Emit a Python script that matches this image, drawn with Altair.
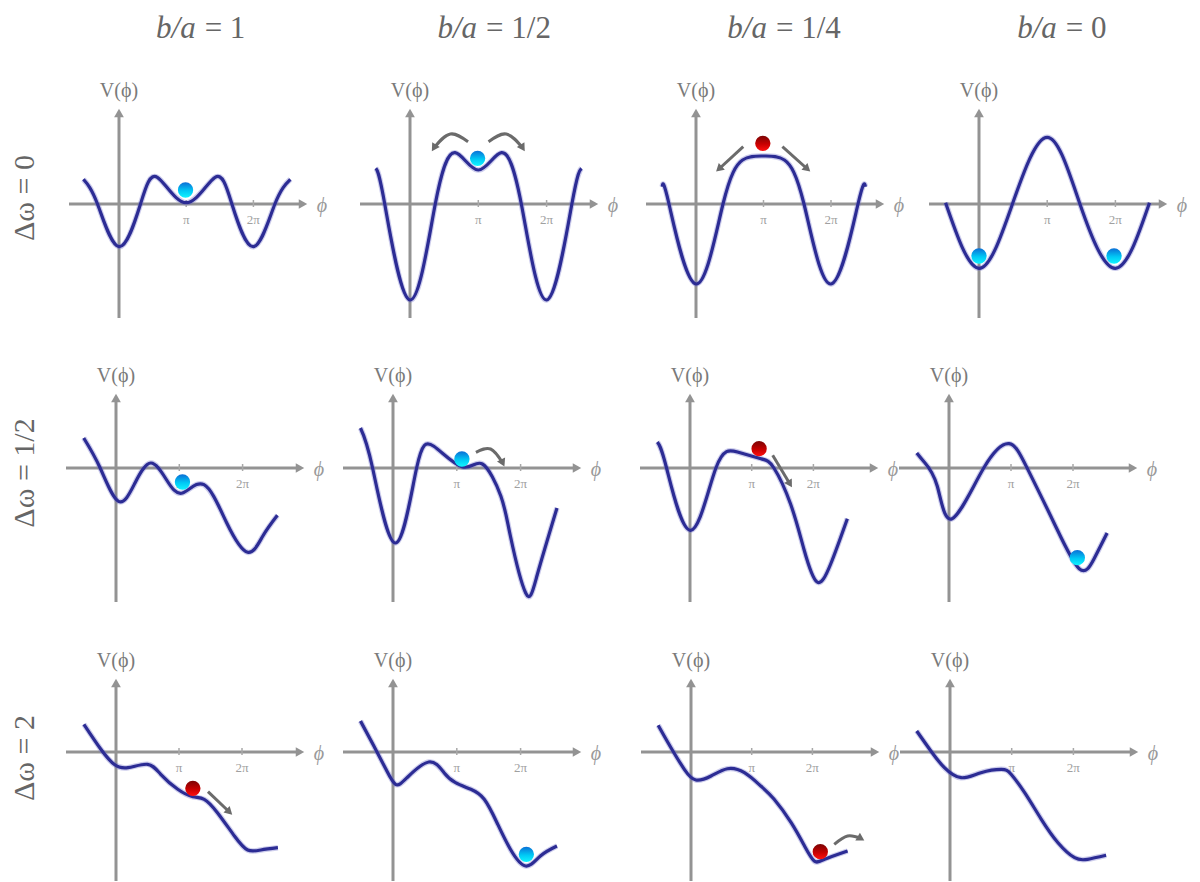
import math
import altair as alt
import pandas as pd

# ---------------- text ----------------
col_titles = ["1", "1/2", "1/4", "0"]
row_titles = ["Δω = 0", "Δω = 1/2", "Δω = 2"]
title_phi = [1.2, 1.04, 1.11, 1.2]

# ---------------- curves: phi in units of pi, V in arbitrary units ----------------
phi_r1c1 = [-0.53, -0.32, 0.0, 0.32, 0.57, 1.0, 1.43, 1.68, 2.0, 2.32, 2.55]
V_r1c1 = [24.7, 0.0, -42.7, 0.0, 26.7, 1.3, 26.7, 0.0, -42.7, 0.0, 24.7]

phi_r1c2 = [-0.50, -0.37, 0.0, 0.37, 0.66, 1.0, 1.34, 1.63, 2.0, 2.37, 2.51]
V_r1c2 = [35.7, 0.0, -96.0, 0.0, 51.3, 34.0, 51.3, 0.0, -96.0, 0.0, 35.7]

phi_r1c3 = [-0.50, -0.40, 0.0, 0.40, 0.69, 1.0, 1.31, 1.60, 2.0, 2.40, 2.51]
V_r1c3 = [17.3, 0.0, -80.0, 0.0, 44.0, 48.0, 44.0, 0.0, -80.0, 0.0, 17.3]

phi_r1c4 = [-0.49, 0.0, 0.49, 1.0, 1.48, 2.0, 2.50]
V_r1c4 = [1.3, -64.3, 0.0, 66.7, 0.0, -64.3, 1.3]

phi_r2c1 = [-0.51, -0.25, 0.04, 0.30, 0.55, 0.80, 1.05, 1.39, 1.75, 2.08, 2.32, 2.55]
V_r2c1 = [30.0, 0.0, -33.3, -15.0, 5.0, -12.0, -25.0, -16.7, -55.0, -84.3, -68.0, -47.3]

phi_r2c2 = [-0.51, -0.32, 0.04, 0.37, 0.64, 1.09, 1.40, 1.69, 1.84, 2.08, 2.26, 2.57]
V_r2c2 = [40.0, 0.0, -75.0, 0.0, 21.7, 1.0, 4.0, -28.0, -68.0, -125.0, -107.0, -40.0]

phi_r2c3 = [-0.53, -0.38, 0.01, 0.42, 0.77, 1.15, 1.36, 1.63, 1.85, 2.06, 2.28, 2.55]
V_r2c3 = [26.0, 0.0, -62.3, 0.0, 16.0, 9.3, 0.0, -36.0, -82.0, -114.0, -96.0, -50.7]

phi_r2c4 = [-0.52, -0.40, -0.19, 0.05, 0.56, 0.97, 1.26, 1.70, 2.10, 2.34, 2.55]
V_r2c4 = [15.0, 6.0, -18.0, -50.7, 0.0, 24.3, 0.0, -55.7, -100.7, -90.7, -65.0]

phi_r3c1 = [-0.51, -0.24, -0.03, 0.19, 0.50, 0.71, 0.98, 1.22, 1.40, 1.61, 1.88, 2.09, 2.30, 2.57]
V_r3c1 = [27.7, 2.7, -12.3, -15.7, -12.3, -22.3, -37.3, -44.7, -47.3, -60.7, -84.0, -98.0, -98.0, -95.7]

phi_r3c2 = [-0.51, -0.30, -0.11, 0.04, 0.22, 0.56, 0.80, 0.98, 1.22, 1.43, 1.63, 1.84, 2.08, 2.31, 2.57]
V_r3c2 = [31.0, 6.0, -17.3, -32.3, -25.7, -10.0, -20.7, -30.7, -37.3, -47.3, -70.7, -97.3, -114.0, -104.0, -94.0]

phi_r3c3 = [-0.54, -0.33, -0.11, 0.08, 0.33, 0.60, 0.88, 1.15, 1.37, 1.65, 1.87, 2.03, 2.20, 2.58]
V_r3c3 = [26.7, 4.3, -17.3, -28.0, -24.0, -16.7, -20.7, -34.0, -47.3, -70.7, -94.0, -109.0, -107.3, -99.0]

phi_r3c4 = [-0.54, -0.31, -0.09, 0.18, 0.50, 0.83, 0.99, 1.21, 1.48, 1.75, 2.02, 2.23, 2.53]
V_r3c4 = [21.0, 1.0, -15.7, -25.7, -20.7, -17.3, -22.3, -40.7, -67.3, -90.7, -105.7, -107.3, -103.3]

curves = {
    (0, 0): (phi_r1c1, V_r1c1), (0, 1): (phi_r1c2, V_r1c2),
    (0, 2): (phi_r1c3, V_r1c3), (0, 3): (phi_r1c4, V_r1c4),
    (1, 0): (phi_r2c1, V_r2c1), (1, 1): (phi_r2c2, V_r2c2),
    (1, 2): (phi_r2c3, V_r2c3), (1, 3): (phi_r2c4, V_r2c4),
    (2, 0): (phi_r3c1, V_r3c1), (2, 1): (phi_r3c2, V_r3c2),
    (2, 2): (phi_r3c3, V_r3c3), (2, 3): (phi_r3c4, V_r3c4),
}

# balls: (phi, V, kind)
balls = {
    (0, 0): [(0.99, 14.0, "blue")],
    (0, 1): [(0.99, 45.7, "blue")],
    (0, 2): [(0.99, 60.7, "red")],
    (0, 3): [(0.0, -52.0, "blue"), (1.98, -52.0, "blue")],
    (1, 0): [(1.05, -14.0, "blue")],
    (1, 1): [(1.08, 9.0, "blue")],
    (1, 2): [(1.12, 19.3, "red")],
    (1, 3): [(2.07, -89.7, "blue")],
    (2, 0): [(1.22, -36.3, "red")],
    (2, 1): [(2.09, -102.3, "blue")],
    (2, 2): [(2.13, -99.7, "red")],
    (2, 3): [],
}

# motion arrows: list of (phi, V) points
arrows = {
    (0, 1): [[(0.85, 62.3), (0.59, 70.0), (0.35, 56.0)],
             [(1.15, 62.3), (1.41, 70.0), (1.65, 56.0)]],
    (0, 2): [[(0.70, 57.3), (0.34, 35.0)], [(1.28, 57.3), (1.65, 35.0)]],
    (1, 1): [[(1.30, 15.7), (1.53, 19.0), (1.72, 5.0)]],
    (1, 2): [[(1.34, 12.7), (1.62, -16.0)]],
    (2, 0): [[(1.46, -39.7), (1.80, -60.0)]],
    (2, 2): [[(2.36, -92.3), (2.58, -84.0), (2.80, -86.5)]],
}

# ---------------- layout / style ----------------
SERIF = "Liberation Serif"
AX = "#939393"
TXT = "#666666"
CURVE = "#2c2c94"
ARROW = "#6b6b6b"

AXIS_X = [[118, 409, 695, 978], [115, 392, 689, 948], [115, 392, 690, 949]]
PI_PX = [[67.2, 68.3, 67.5, 68.2], [63.3, 63.8, 61.7, 62.0], [63.0, 63.8, 60.7, 61.7]]
COL_W = [279, 297, 259, 290]
LEFT = 61
YDOM = [(-115, 100), (-135, 80), (-130, 80)]
YTIP = [95, 74, 73]
ROWLAB_Y = [94, 85, 86]

blue_grad = alt.Gradient(
    gradient="linear", x1=0, x2=0, y1=0, y2=1,
    stops=[alt.GradientStop(color="#0b6fd6", offset=0),
           alt.GradientStop(color="#00c8f5", offset=0.55),
           alt.GradientStop(color="#10f4ff", offset=1)])
red_grad = alt.Gradient(
    gradient="linear", x1=0, x2=0, y1=0, y2=1,
    stops=[alt.GradientStop(color="#7a0505", offset=0),
           alt.GradientStop(color="#c80000", offset=0.55),
           alt.GradientStop(color="#ff1010", offset=1)])


def make_panel(r, c):
    p = PI_PX[r][c]
    w = COL_W[c]
    left = LEFT + sum(COL_W[:c])
    off = AXIS_X[r][c] - left
    xmin = -off / p
    xs = alt.Scale(domain=[xmin, xmin + w / p], nice=False, zero=False)
    ymin, ymax = YDOM[r]
    ys = alt.Scale(domain=[ymin, ymax], nice=False, zero=False)
    tip = YTIP[r]

    def X(f):
        return alt.X(f, type="quantitative", scale=xs, axis=None)

    def Y(f):
        return alt.Y(f, type="quantitative", scale=ys, axis=None)

    L = []
    # horizontal axis
    L.append(alt.Chart(pd.DataFrame({"x": [-50 / p], "x2": [182 / p], "y": [0.0]}))
             .mark_rule(color=AX, strokeWidth=3).encode(x=X("x"), x2="x2", y=Y("y")))
    L.append(alt.Chart(pd.DataFrame({"x": [184 / p], "y": [0.0]}))
             .mark_point(shape="triangle-right", filled=True, color=AX, opacity=1, size=95)
             .encode(x=X("x"), y=Y("y")))
    # vertical axis
    L.append(alt.Chart(pd.DataFrame({"x": [0.0], "y": [ymin + 1.0], "y2": [tip - 6.0]}))
             .mark_rule(color=AX, strokeWidth=3).encode(x=X("x"), y=Y("y"), y2="y2"))
    L.append(alt.Chart(pd.DataFrame({"x": [0.0], "y": [tip - 4.0]}))
             .mark_point(shape="triangle-up", filled=True, color=AX, opacity=1, size=95)
             .encode(x=X("x"), y=Y("y")))
    # ticks at pi, 2pi
    L.append(alt.Chart(pd.DataFrame({"x": [1.0, 2.0], "y": [-3.0, -3.0], "y2": [4.0, 4.0]}))
             .mark_rule(color="#a8a8a8", strokeWidth=1.5).encode(x=X("x"), y=Y("y"), y2="y2"))
    L.append(alt.Chart(pd.DataFrame({"x": [1.0, 2.0], "y": [-16.0, -16.0], "t": ["π", "2π"]}))
             .mark_text(font=SERIF, fontSize=13, color="#a0a0a0", baseline="middle", align="center")
             .encode(x=X("x"), y=Y("y"), text="t:N"))
    # axis labels
    L.append(alt.Chart(pd.DataFrame({"x": [0.0], "y": [tip + 18.0], "t": ["V(ϕ)"]}))
             .mark_text(font=SERIF, fontSize=20, color="#7a7a7a", baseline="middle", align="center")
             .encode(x=X("x"), y=Y("y"), text="t:N"))
    L.append(alt.Chart(pd.DataFrame({"x": [203 / p], "y": [-2.0], "t": ["ϕ"]}))
             .mark_text(font=SERIF, fontSize=20, fontStyle="italic", color="#9a9a9a",
                        baseline="middle", align="center")
             .encode(x=X("x"), y=Y("y"), text="t:N"))
    # potential curve
    ph, vv = curves[(r, c)]
    cdf = pd.DataFrame({"x": ph, "y": vv, "i": list(range(len(ph)))})
    L.append(alt.Chart(cdf).mark_line(interpolate="natural", color="#7070c8", strokeWidth=5.5, opacity=0.35)
             .encode(x=X("x"), y=Y("y"), order="i:Q"))
    L.append(alt.Chart(cdf).mark_line(interpolate="natural", color=CURVE, strokeWidth=3.2)
             .encode(x=X("x"), y=Y("y"), order="i:Q"))
    # arrows
    arr = arrows.get((r, c), [])
    if arr:
        rows, heads = [], []
        for k, pts in enumerate(arr):
            for i, (ax_, ay_) in enumerate(pts):
                rows.append({"x": ax_, "y": ay_, "a": k, "i": i})
            if len(pts) == 3:
                (x0, y0), (x1, y1), (x2, y2) = pts
                dx = (x0 - 4 * x1 + 3 * x2) * p
                dy = -(y0 - 4 * y1 + 3 * y2)
            else:
                (x0, y0), (x2, y2) = pts
                dx = (x2 - x0) * p
                dy = -(y2 - y0)
            ang = math.degrees(math.atan2(dx, -dy)) % 360
            heads.append({"x": x2, "y": y2, "ang": ang})
        L.append(alt.Chart(pd.DataFrame(rows))
                 .mark_line(interpolate="natural", color=ARROW, strokeWidth=3)
                 .encode(x=X("x"), y=Y("y"), detail="a:N", order="i:Q"))
        L.append(alt.Chart(pd.DataFrame(heads))
                 .mark_point(shape="triangle-up", filled=True, color=ARROW, opacity=1, size=80)
                 .encode(x=X("x"), y=Y("y"), angle=alt.Angle("ang:Q", scale=None)))
    # balls
    for kind, grad in (("blue", blue_grad), ("red", red_grad)):
        bl = [b for b in balls[(r, c)] if b[2] == kind]
        if bl:
            L.append(alt.Chart(pd.DataFrame({"x": [b[0] for b in bl], "y": [b[1] for b in bl]}))
                     .mark_circle(fill=grad, opacity=1, size=235, stroke=None)
                     .encode(x=X("x"), y=Y("y")))
    # column titles
    if r == 0:
        tdf = pd.DataFrame({"x": [title_phi[c]]})
        L.append(alt.Chart(tdf).mark_text(text="b/a", font=SERIF, fontSize=31, fontStyle="italic",
                                          color=TXT, align="right", baseline="alphabetic", dx=-4)
                 .encode(x=X("x"), y=alt.value(-66)))
        L.append(alt.Chart(tdf).mark_text(text="= " + col_titles[c], font=SERIF, fontSize=31,
                                          color=TXT, align="left", baseline="alphabetic", dx=5)
                 .encode(x=X("x"), y=alt.value(-66)))
    # row titles
    if c == 0:
        L.append(alt.Chart(pd.DataFrame({"t": [row_titles[r]]}))
                 .mark_text(font=SERIF, fontSize=30, color=TXT, angle=270,
                            align="center", baseline="middle")
                 .encode(x=alt.value(-37), y=alt.value(ROWLAB_Y[r]), text="t:N"))
    if r == 0 and c == 0:
        L.append(alt.Chart(pd.DataFrame({"z": [0]}))
                 .mark_point(shape="square", size=1, filled=True, color="white", opacity=1)
                 .encode(x=alt.value(-53), y=alt.value(-95)))
    return alt.layer(*L).properties(width=w, height=ymax - ymin)


panels = [make_panel(r, c) for r in range(3) for c in range(4)]

chart = (alt.concat(*panels, columns=4, spacing={"row": 69, "column": 0},
                    bounds="flush", align="none")
         .properties(padding=0, background="white")
         .configure_view(stroke=None))

chart.save("out.html", embed_options={"renderer": "svg", "actions": False})
